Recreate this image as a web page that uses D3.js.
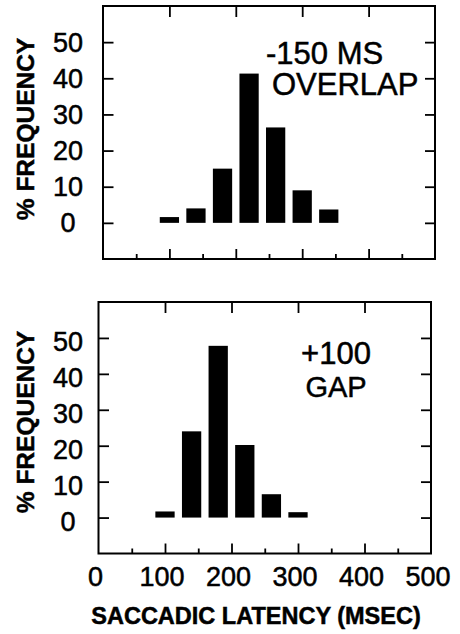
<!DOCTYPE html>
<html>
<head>
<meta charset="utf-8">
<script src="https://cdn.jsdelivr.net/npm/d3@7/dist/d3.min.js"></script>
<style>
  html, body { margin: 0; padding: 0; background: #fff; }
  svg { display: block; }
  text { font-family: "Liberation Sans", Arial, Helvetica, sans-serif; fill: #000; }
  text.thick { stroke: #000; stroke-width: 0.5px; }
</style>
</head>
<body>
<svg id="chart" width="460" height="634"></svg>
<script>
// ---- data ----
const binCenters = [100, 140, 180, 220, 260, 300, 340];
const overlapFreq = [1.6, 4, 15, 41.3, 26.4, 9, 3.7];
const gapFreq = [1.7, 24, 47.8, 20.2, 6.5, 1.5];
const xMajorTicks = [0, 100, 200, 300, 400, 500];
const xMinorTicks = [50, 150, 250, 350, 450];
const yTicks = [0, 10, 20, 30, 40, 50];
const binWidth = 29;
const overlapLabel = ["-150 MS", "OVERLAP"];
const gapLabel = ["+100", "GAP"];
const yTitle = "% FREQUENCY";
const xTitle = "SACCADIC LATENCY (MSEC)";

const svg = d3.select("#chart");

const panels = [
  { box: { l: 103, r: 435, t: 6, b: 259 }, values: overlapFreq, yLabDy: 9.5, yTitleY: 129,
    ann: [{ t: overlapLabel[0], x: 266, y: 63.5, a: "start", s: 31 }, { t: overlapLabel[1], x: 272, y: 95, a: "start", s: 31 }],
    xLabels: false },
  { box: { l: 98.5, r: 431, t: 302, b: 553.5 }, values: gapFreq, yLabDy: 13, yTitleY: 422,
    ann: [{ t: gapLabel[0], x: 336, y: 363.5, a: "middle", s: 31 }, { t: gapLabel[1], x: 336, y: 396.5, a: "middle", s: 29 }],
    xLabels: true }
];

panels.forEach(p => {
  const B = p.box;
  const x = d3.scaleLinear().domain([0, 500]).range([B.l, B.r]);
  const y = d3.scaleLinear().domain([-10, 60]).range([B.b, B.t]);
  const g = svg.append("g");

  // bars
  g.selectAll("rect.bar").data(p.values).join("rect")
    .attr("class", "bar")
    .attr("x", (d, i) => x(binCenters[i] - binWidth / 2))
    .attr("width", (d, i) => x(binCenters[i] + binWidth / 2) - x(binCenters[i] - binWidth / 2))
    .attr("y", d => y(d))
    .attr("height", d => y(0) - y(d))
    .attr("fill", "#000");

  // axes with inward ticks
  const styleAxis = sel => {
    sel.select(".domain").remove();
    sel.selectAll(".tick line").attr("stroke", "#000").attr("stroke-width", 1.8);
    sel.selectAll(".tick text").remove();
  };
  g.append("g").attr("transform", `translate(0,${B.b})`)
    .call(d3.axisBottom(x).tickValues(xMajorTicks.slice(1, -1)).tickSize(-10).tickFormat(""))
    .call(styleAxis);
  g.append("g").attr("transform", `translate(0,${B.b})`)
    .call(d3.axisBottom(x).tickValues(xMinorTicks).tickSize(-5).tickFormat(""))
    .call(styleAxis);
  g.append("g").attr("transform", `translate(0,${B.t})`)
    .call(d3.axisTop(x).tickValues(xMajorTicks.slice(1, -1)).tickSize(-11).tickFormat(""))
    .call(styleAxis);
  g.append("g").attr("transform", `translate(${B.l},0)`)
    .call(d3.axisLeft(y).tickValues(yTicks).tickSize(-10.5).tickFormat(""))
    .call(styleAxis);
  g.append("g").attr("transform", `translate(${B.r},0)`)
    .call(d3.axisRight(y).tickValues(yTicks).tickSize(-10).tickFormat(""))
    .call(styleAxis);

  // frame
  g.append("rect")
    .attr("x", B.l).attr("y", B.t)
    .attr("width", B.r - B.l).attr("height", B.b - B.t)
    .attr("fill", "none").attr("stroke", "#000").attr("stroke-width", 2);

  // y tick labels
  g.selectAll("text.ylab").data(yTicks).join("text")
    .attr("class", "ylab thick")
    .attr("x", 68)
    .attr("y", d => y(d) + p.yLabDy)
    .attr("text-anchor", "middle")
    .attr("font-size", 27)
    .text(d => d);

  // y title
  g.append("text")
    .attr("class", "thick")
    .attr("transform", `translate(33.5,${p.yTitleY}) rotate(-90)`)
    .attr("text-anchor", "middle")
    .attr("font-size", 24.5)
    .attr("font-weight", "bold")
    .text(yTitle);

  // annotation
  g.selectAll("text.ann").data(p.ann).join("text")
    .attr("class", "ann thick")
    .attr("x", d => d.x).attr("y", d => d.y)
    .attr("text-anchor", d => d.a)
    .attr("font-size", d => d.s)
    .text(d => d.t);

  if (p.xLabels) {
    g.selectAll("text.xlab").data(xMajorTicks).join("text")
      .attr("class", "xlab thick")
      .attr("x", d => x(d) - 3)
      .attr("y", 585.5)
      .attr("text-anchor", "middle")
      .attr("font-size", 27)
      .text(d => d);
    g.append("text")
      .attr("class", "thick")
      .attr("x", 256).attr("y", 623.5)
      .attr("text-anchor", "middle")
      .attr("font-size", 23.5)
      .attr("font-weight", "bold")
      .text(xTitle);
  }
});
</script>
</body>
</html>
